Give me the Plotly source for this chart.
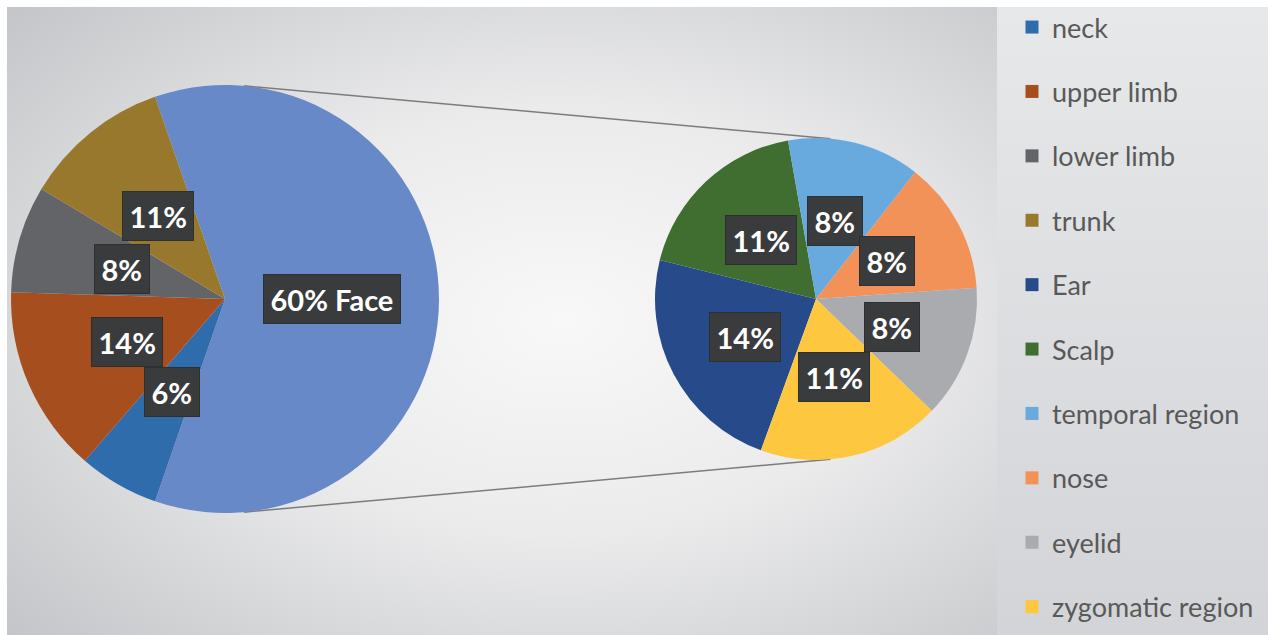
import math
import base64
import plotly.graph_objects as go

# ---------------- data ----------------
main_labels = ["Face", "neck", "upper limb", "lower limb", "trunk"]
main_values = [60, 6, 14, 8, 11]
main_colors = ["#6889C8", "#2F6CAB", "#A64E1E", "#636468", "#98782D"]

sub_labels = ["Ear", "Scalp", "temporal region", "nose", "eyelid", "zygomatic region"]
sub_values = [14, 11, 8, 8, 8, 11]
sub_colors = ["#264A8A", "#406E30", "#68AADE", "#F29258", "#AAABAE", "#FDC840"]

legend_order = ["neck", "upper limb", "lower limb", "trunk", "Ear", "Scalp",
                "temporal region", "nose", "eyelid", "zygomatic region"]

# ---------------- layout geometry (pixels) ----------------
W, H = 1268, 635
main_box = (11, 85, 439, 513)    # left, top, right, bottom
sub_box = (655, 138, 977, 460)
FONT = "Lato"


def dom(box):
    l, t, r, b = box
    return dict(x=[l / W, r / W], y=[1 - b / H, 1 - t / H])


def circle(box):
    l, t, r, b = box
    return ((l + r) / 2, (t + b) / 2, min(r - l, b - t) / 2)


# main pie: first slice (Face) centred on 3 o'clock
face_span = main_values[0] / sum(main_values) * 360
main_rot = 90 - face_span / 2
sub_rot = 200

# ---------------- background (gradient via svg image) ----------------
svg = f"""<svg xmlns='http://www.w3.org/2000/svg' width='{W}' height='{H}' viewBox='0 0 {W} {H}' preserveAspectRatio='none'>
<defs>
<radialGradient id='g' cx='0.56' cy='0.5' r='0.75'>
<stop offset='0' stop-color='#f8f8f8'/>
<stop offset='0.45' stop-color='#ebebec'/>
<stop offset='1' stop-color='#c3c5c8'/>
</radialGradient>
<linearGradient id='l' x1='0' y1='0' x2='0' y2='1'>
<stop offset='0' stop-color='#e7e8ea'/>
<stop offset='1' stop-color='#d3d4d7'/>
</linearGradient>
</defs>
<rect width='{W}' height='{H}' fill='#ffffff'/>
<rect x='7' y='7' width='990' height='{H-7}' fill='url(#g)'/>
<rect x='997' y='7' width='{W-997}' height='{H-7}' fill='url(#l)'/>
</svg>"""
svg_uri = "data:image/svg+xml;base64," + base64.b64encode(svg.encode()).decode()

fig = go.Figure()

fig.add_trace(go.Pie(
    labels=main_labels, values=main_values, sort=False, direction="clockwise",
    rotation=main_rot, marker=dict(colors=main_colors, line=dict(width=0)),
    textinfo="none", hoverinfo="label+percent", showlegend=False,
    domain=dom(main_box),
))
fig.add_trace(go.Pie(
    labels=sub_labels, values=sub_values, sort=False, direction="clockwise",
    rotation=sub_rot, marker=dict(colors=sub_colors, line=dict(width=0)),
    textinfo="none", hoverinfo="label+percent", showlegend=False,
    domain=dom(sub_box),
))

# legend entries via placeholder traces
color_of = dict(zip(main_labels + sub_labels, main_colors + sub_colors))
for i, name in enumerate(legend_order):
    fig.add_trace(go.Scatter(
        x=[None], y=[None], mode="markers", name=name, legendgroup=f"g{i}",
        marker=dict(symbol="square", size=13, color=color_of[name]),
        hoverinfo="skip",
    ))


# ---------------- data labels ----------------
def label_positions(values, labels, box, rot, named):
    cx, cy, r = circle(box)
    total = sum(values)
    ang = rot
    out = []
    for v, lab in zip(values, labels):
        span = v / total * 360
        mid = math.radians(ang + span / 2)
        px = cx + 0.5 * r * math.sin(mid)
        py = cy - 0.5 * r * math.cos(mid)
        txt = f"{v}% {lab}" if lab in named else f"{v}%"
        out.append((px / W, 1 - py / H, txt))
        ang += span
    return out


labels_all = (label_positions(main_values, main_labels, main_box, main_rot, {"Face"})
              + label_positions(sub_values, sub_labels, sub_box, sub_rot, set()))

annotations = []
for x, y, txt in labels_all:
    annotations.append(dict(
        x=x, y=y, xref="paper", yref="paper", text=txt, showarrow=False,
        xanchor="center", yanchor="middle",
        font=dict(family=FONT, size=29, color="#ffffff", weight="bold"),
        bgcolor="#3a3b3d", bordercolor="#2e2f31", borderwidth=1, borderpad=6.5,
    ))

# ---------------- connector lines (external tangents) ----------------
x1, y1, r1 = circle(main_box)
x2, y2, r2 = circle(sub_box)
dx, dy = x2 - x1, -(y2 - y1)
d = math.hypot(dx, dy)
base = math.atan2(dy, dx)
phi = math.acos((r1 - r2) / d)
shapes = []
for s in (1, -1):
    a = base + s * phi
    p1 = (x1 + r1 * math.cos(a), y1 - r1 * math.sin(a))
    p2 = (x2 + r2 * math.cos(a), y2 - r2 * math.sin(a))
    shapes.append(dict(type="line", xref="paper", yref="paper",
                       x0=p1[0] / W, y0=1 - p1[1] / H, x1=p2[0] / W, y1=1 - p2[1] / H,
                       line=dict(color="#7b7c7e", width=1.5), layer="below"))

fig.update_layout(
    width=W, height=H, margin=dict(l=0, r=0, t=0, b=0),
    paper_bgcolor="#ffffff", plot_bgcolor="rgba(0,0,0,0)",
    xaxis=dict(visible=False), yaxis=dict(visible=False),
    images=[dict(source=svg_uri, xref="paper", yref="paper", x=0, y=1,
                 sizex=1, sizey=1, xanchor="left", yanchor="top",
                 sizing="stretch", layer="below")],
    shapes=shapes, annotations=annotations,
    legend=dict(x=1012 / W, xanchor="left", y=1 - 3 / H, yanchor="top",
                font=dict(family=FONT, size=27, color="#595959"),
                bgcolor="rgba(0,0,0,0)", tracegroupgap=26.3,
                itemclick=False, itemdoubleclick=False),
    showlegend=True,
    font=dict(family=FONT),
)

fig.write_html(
    "out.html",
    config={"displayModeBar": False},
    post_script="document.body.style.margin='0px';document.body.style.overflow='hidden';",
)
